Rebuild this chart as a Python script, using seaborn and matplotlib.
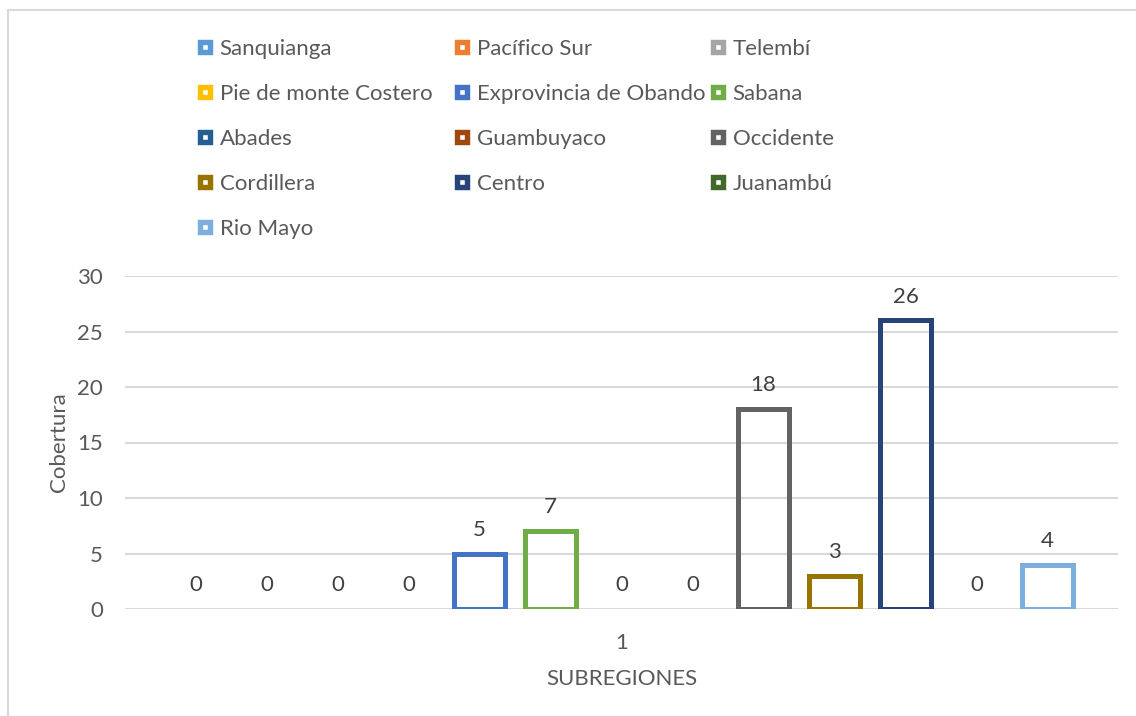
import pandas as pd
import numpy as np
import matplotlib
matplotlib.use("Agg")
import matplotlib.pyplot as plt
from matplotlib.lines import Line2D
from matplotlib.patches import Rectangle
import seaborn as sns

# ======================================================
# Data
# ======================================================

subregiones = [
    "Sanquianga", "Pacífico Sur", "Telembí",
    "Pie de monte Costero", "Exprovincia de Obando", "Sabana",
    "Abades", "Guambuyaco", "Occidente",
    "Cordillera", "Centro", "Juanambú",
    "Rio Mayo",
]

cobertura = [0, 0, 0, 0, 5, 7, 0, 0, 18, 3, 26, 0, 4]

colores = [
    "#5B9BD5", "#ED7D31", "#A5A5A5",
    "#FFC000", "#4472C4", "#70AD47",
    "#255E91", "#9E480E", "#636363",
    "#997300", "#264478", "#43682B",
    "#7CAFDD",
]

categoria = ["1"] * len(subregiones)

df = pd.DataFrame({
    "grupo": categoria,
    "subregion": subregiones,
    "cobertura": cobertura,
})

palette = dict(zip(subregiones, colores))

# ======================================================
# Style
# ======================================================

sns.set_style("white")
plt.rcParams["font.family"] = ["Lato", "DejaVu Sans"]

gris = "#595959"
fs = 16

fig = plt.figure(figsize=(11.36, 7.16), dpi=100)
ax = fig.add_axes([125/1136, 1 - 609/716, 993/1136, 333/716])

sns.barplot(
    data=df,
    x="grupo",
    y="cobertura",
    hue="subregion",
    hue_order=subregiones,
    palette=palette,
    fill=False,
    width=0.9295,
    gap=0.27,
    linewidth=3.6,
    legend=False,
    errorbar=None,
    ax=ax,
)

for p in ax.patches:
    p.set_joinstyle("miter")
    if p.get_height() == 0:
        p.set_linewidth(0)

for cont in ax.containers:
    ax.bar_label(cont, padding=10, fontsize=fs, color="#404040")

ax.set_xlim(-0.5, 0.5)
ax.set_ylim(0, 30)
ax.set_yticks(range(0, 31, 5))
ax.yaxis.grid(True, color="#D9D9D9", linewidth=1.5)
ax.set_axisbelow(True)
for s in ax.spines.values():
    s.set_visible(False)

ax.tick_params(axis="x", length=0, pad=17, labelsize=fs, colors=gris)
ax.tick_params(axis="y", length=0, pad=16, labelsize=fs, colors=gris)

ax.set_xlabel("SUBREGIONES", fontsize=fs, color=gris, labelpad=12)
ax.set_ylabel("Cobertura", fontsize=fs, color=gris, labelpad=6)

# ======================================================
# Legend (three columns, filled row by row like Excel)
# ======================================================

handles = [
    Line2D([], [], linestyle="none", marker="s", markersize=7.8,
           markerfacecolor="white", markeredgecolor=c, markeredgewidth=3.9)
    for c in colores
]

col_x = [194, 451, 707]

for j, x0 in enumerate(col_x):
    leg = fig.legend(
        handles[j::3], subregiones[j::3],
        loc="upper left",
        bbox_to_anchor=(x0/1136, 1 - 39/716),
        ncol=1,
        frameon=False,
        fontsize=fs,
        labelcolor=gris,
        handlelength=1.0,
        handletextpad=0.15,
        labelspacing=1.12,
        borderpad=0,
        borderaxespad=0,
    )

# chart border
fig.patches.append(Rectangle(
    (8/1136, -0.1), 1.2, 1.1 - 10/716,
    transform=fig.transFigure, fill=False,
    edgecolor="#D9D9D9", linewidth=1.5,
))

plt.savefig("out.png", dpi=100)
